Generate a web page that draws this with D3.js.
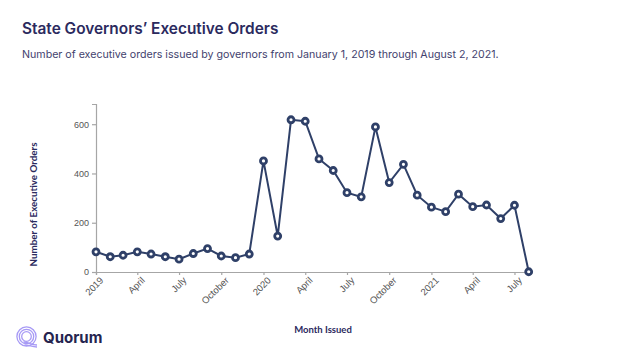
<!DOCTYPE html>
<html>
<head>
<meta charset="utf-8">
<script src="https://cdn.jsdelivr.net/npm/d3@7"></script>
<style>
  html, body { margin: 0; padding: 0; background: #fff; }
  svg { display: block; }
  .axis path, .axis line { stroke: #a6a6a6; stroke-width: 1.2; }
  .axis text { fill: #555; font-family: "Liberation Sans", sans-serif; font-size: 9px; }
  .x-axis text { font-size: 9.5px; }
</style>
</head>
<body>
<svg id="chart" width="640" height="360"></svg>
<script>
const months = [
  "2019-01", "2019-02", "2019-03", "2019-04", "2019-05", "2019-06", "2019-07", "2019-08",
  "2019-09", "2019-10", "2019-11", "2019-12", "2020-01", "2020-02", "2020-03", "2020-04",
  "2020-05", "2020-06", "2020-07", "2020-08", "2020-09", "2020-10", "2020-11", "2020-12",
  "2021-01", "2021-02", "2021-03", "2021-04", "2021-05", "2021-06", "2021-07", "2021-08"
];
const orders = [
  82, 62, 68, 82, 73, 62, 52, 75,
  95, 65, 58, 73, 451, 146, 618, 612,
  459, 412, 322, 305, 589, 363, 437, 312,
  263, 245, 316, 265, 272, 217, 271, 1
];
const yTicks = [0, 200, 400, 600];
const xTickMonths = [
  "2019-01", "2019-04", "2019-07", "2019-10", "2020-01", "2020-04",
  "2020-07", "2020-10", "2021-01", "2021-04", "2021-07"
];

const parseMonth = d3.timeParse("%Y-%m");
const data = months.map((m, i) => ({ date: parseMonth(m), value: orders[i] }));

const svg = d3.select("#chart");

const x = d3.scaleTime()
  .domain([parseMonth("2019-01"), parseMonth("2021-08")])
  .range([96, 528.7]);

const y = d3.scaleLinear()
  .domain([0, 682])
  .range([272, 104]);

// title block
svg.append("text")
  .attr("x", 22).attr("y", 34)
  .attr("fill", "#2b2a5e")
  .attr("font-family", "Inter, sans-serif")
  .attr("font-size", 15.4)
  .attr("font-weight", 600)
  .text("State Governors’ Executive Orders");

svg.append("text")
  .attr("x", 22).attr("y", 58)
  .attr("fill", "#43426e")
  .attr("font-family", "Inter, sans-serif")
  .attr("font-size", 10.65)
  .text("Number of executive orders issued by governors from January 1, 2019 through August 2, 2021.");

// axes
const xAxis = d3.axisBottom(x)
  .tickValues(xTickMonths.map(parseMonth))
  .tickSize(3)
  .tickFormat(d => d.getMonth() === 0 ? d3.timeFormat("%Y")(d) : d3.timeFormat("%B")(d));

svg.append("g")
  .attr("class", "axis x-axis")
  .attr("transform", "translate(0,272)")
  .call(xAxis)
  .selectAll("text")
  .attr("text-anchor", "end")
  .attr("dx", "-0.1em")
  .attr("dy", "0.6em")
  .attr("transform", "rotate(-45)");

svg.append("g")
  .attr("class", "axis y-axis")
  .attr("transform", "translate(96,0)")
  .call(d3.axisLeft(y).tickValues(yTicks).tickSize(4));

// axis titles
svg.append("text")
  .attr("transform", "translate(36.5,204.5) rotate(-90)")
  .attr("text-anchor", "middle")
  .attr("fill", "#2b2a5e")
  .attr("font-family", "Lato, sans-serif")
  .attr("font-size", 9.8)
  .attr("font-weight", 700)
  .text("Number of Executive Orders");

svg.append("text")
  .attr("x", 323).attr("y", 333)
  .attr("text-anchor", "middle")
  .attr("fill", "#2b2a5e")
  .attr("font-family", "Lato, sans-serif")
  .attr("font-size", 9.5)
  .attr("font-weight", 700)
  .text("Month Issued");

// line and points
const line = d3.line().x(d => x(d.date)).y(d => y(d.value));

svg.append("path")
  .datum(data)
  .attr("fill", "none")
  .attr("stroke", "#2f4068")
  .attr("stroke-width", 2)
  .attr("d", line);

svg.selectAll(".dot")
  .data(data)
  .enter()
  .append("circle")
  .attr("class", "dot")
  .attr("cx", d => x(d.date))
  .attr("cy", d => y(d.value))
  .attr("r", 3)
  .attr("fill", "#fff")
  .attr("stroke", "#2f4068")
  .attr("stroke-width", 2.8);

// logo
const logo = svg.append("g").attr("transform", "translate(26.5,336.5)");
[9.6, 7.2, 4.8].forEach(r => {
  logo.append("circle")
    .attr("r", r)
    .attr("fill", "none")
    .attr("stroke", "#a79af5")
    .attr("stroke-width", 1.3);
});
logo.append("path")
  .attr("d", "M-3,5.5 C2,5.5 4,8.5 10.5,8.5 M-2,8.5 C3,8.5 5,10.5 10.5,10.5")
  .attr("fill", "none")
  .attr("stroke", "#a79af5")
  .attr("stroke-width", 1.3);

svg.append("text")
  .attr("x", 43).attr("y", 342.5)
  .attr("fill", "#25244f")
  .attr("font-family", "Inter, sans-serif")
  .attr("font-size", 15)
  .attr("font-weight", 700)
  .text("Quorum");
</script>
</body>
</html>
